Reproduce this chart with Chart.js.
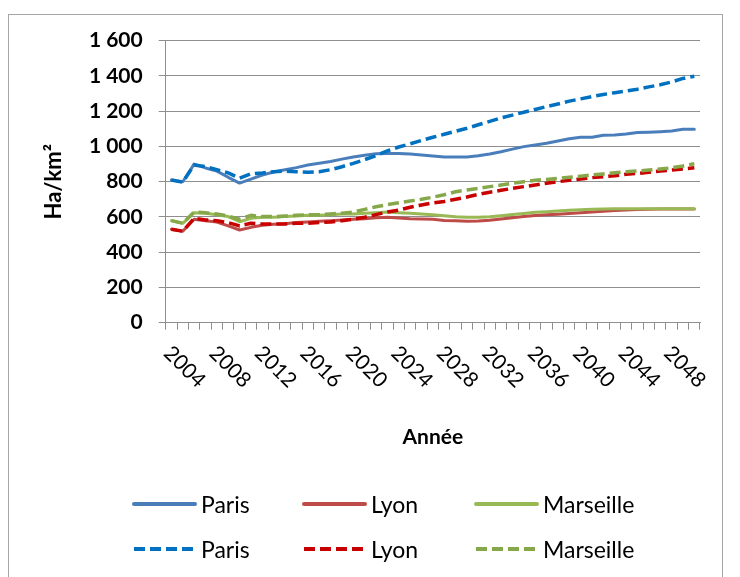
<!DOCTYPE html>
<html><head><meta charset="utf-8">
<script src="https://cdn.jsdelivr.net/npm/chart.js@4/dist/chart.umd.min.js"></script>
<style>
html,body{margin:0;padding:0;background:#fff;}
#wrap{position:relative;width:740px;height:577px;overflow:hidden;background:#fff;}
#frame{position:absolute;left:8px;top:14px;width:715px;height:620px;border:1px solid #a6a6a6;box-sizing:border-box;}
#c{position:absolute;left:0;top:0;}
.leg{position:absolute;height:30px;display:flex;align-items:center;font-family:Lato,sans-serif;font-size:23px;color:#000;white-space:nowrap;}
.leg svg{margin-right:3px;}
</style></head><body>
<div id="wrap"><div id="frame"></div><canvas id="c" width="740" height="577"></canvas><div id="legend"></div></div>
<script>
const years = ['2004','2005','2006','2007','2008','2009','2010','2011','2012','2013','2014','2015','2016','2017','2018','2019','2020','2021','2022','2023','2024','2025','2026','2027','2028','2029','2030','2031','2032','2033','2034','2035','2036','2037','2038','2039','2040','2041','2042','2043','2044','2045','2046','2047','2048','2049','2050'];
const xTickLabels = ['2004','2008','2012','2016','2020','2024','2028','2032','2036','2040','2044','2048'];
const yTicks = [0,200,400,600,800,1000,1200,1400,1600];

const parisA = [810,800,900,878,860,825,792,815,838,855,868,880,895,905,915,928,940,950,958,960,960,957,952,946,940,940,940,947,957,970,985,999,1008,1018,1031,1044,1052,1052,1063,1065,1071,1079,1081,1084,1088,1097,1097];
const lyonA = [530,519,587,579,571,549,526,541,553,558,562,568,571,575,579,583,587,590,596,598,594,590,589,587,580,578,576,577,581,588,596,602,608,612,616,620,624,628,632,636,640,642,644,645,645,645,645];
const marseilleA = [579,564,624,621,613,602,573,592,598,598,602,605,609,609,613,617,617,621,624,628,624,621,617,613,607,601,598,598,601,607,614,620,626,630,634,638,641,643,645,646,647,647,647,647,647,647,647];
const parisB = [810,797,895,885,868,850,820,845,850,857,860,857,853,857,868,885,904,925,948,975,997,1015,1034,1052,1069,1086,1103,1123,1142,1162,1178,1194,1210,1226,1241,1257,1270,1283,1295,1305,1314,1325,1338,1350,1366,1386,1398];
const lyonB = [530,519,592,583,579,568,549,564,560,560,560,564,564,568,571,579,587,598,613,628,639,655,668,680,688,700,713,728,740,751,762,772,781,791,800,808,815,823,828,834,842,847,853,861,866,872,879];
const marseilleB = [579,564,628,624,617,605,587,609,602,602,605,609,613,613,617,621,628,643,658,670,681,690,700,712,726,743,753,762,772,781,791,800,808,813,819,825,831,838,844,851,857,861,866,872,879,889,902];

const seriesNames = ['Paris','Lyon','Marseille','Paris','Lyon','Marseille'];
const seriesData = [parisA, lyonA, marseilleA, parisB, lyonB, marseilleB];
const seriesColors = ['#4A7EBB','#BE4B48','#98B954','#0070C0','#C80000','#86A84A'];
const seriesDashed = [false,false,false,true,true,true];

const DASH = [11,5];
const fmt = v => String(v).replace(/\B(?=(\d{3})+(?!\d))/g, ' ');

const datasets = seriesData.map((d,i) => ({
  label: seriesNames[i],
  data: d,
  borderColor: seriesColors[i],
  backgroundColor: seriesColors[i],
  borderWidth: seriesDashed[i] ? 3.5 : 3,
  borderDash: seriesDashed[i] ? DASH : [],
  borderCapStyle: seriesDashed[i] ? 'butt' : 'round',
  borderJoinStyle: 'round',
  pointRadius: 0,
  tension: 0,
  fill: false,
  order: seriesData.length - i
}));

const xLabelPlugin = {
  id: 'xlabels',
  afterDraw(chart) {
    const s = chart.scales.x, ctx = chart.ctx;
    ctx.save();
    ctx.font = '21px Lato';
    ctx.fillStyle = '#000';
    ctx.textAlign = 'left';
    ctx.textBaseline = 'middle';
    xTickLabels.forEach(lbl => {
      const px = s.getPixelForValue(years.indexOf(lbl));
      ctx.save();
      ctx.translate(px - 4, s.top + 27);
      ctx.rotate(Math.PI / 4);
      ctx.fillText(lbl, 0, 0);
      ctx.restore();
    });
    ctx.restore();
  }
};

const gridCol = '#8f8f8f';
new Chart(document.getElementById('c'), {
  type: 'line',
  data: { labels: years, datasets },
  options: {
    responsive: false,
    animation: false,
    devicePixelRatio: 1,
    layout: { padding: { left: 10, top: 40.7, right: 40, bottom: 114.3 } },
    plugins: { legend: { display: false }, tooltip: { enabled: false } },
    scales: {
      x: {
        type: 'category',
        offset: true,
        grid: { offset: true, drawOnChartArea: false, drawTicks: true, tickLength: 7, color: gridCol },
        border: { color: gridCol, width: 1 },
        ticks: { display: false },
        title: { display: true, text: 'Année', color: '#000', font: { family: 'Lato', size: 21, weight: 'bold' }, padding: { top: 0, bottom: 13 } },
        afterFit(s) { s.height = 140; }
      },
      y: {
        min: 0, max: 1600,
        afterBuildTicks(s) { s.ticks = yTicks.map(v => ({ value: v })); },
        ticks: { padding: 16, color: '#000', font: { family: 'Lato', size: 21, weight: 'bold' }, callback: v => fmt(v) },
        grid: { color: gridCol, tickLength: 7, drawTicks: true },
        border: { color: gridCol, width: 1 },
        title: { display: true, text: 'Ha/km²', color: '#000', font: { family: 'Lato', size: 22, weight: 'bold' }, padding: { top: 31, bottom: 0 } },
        afterFit(s) { s.width = 155.7; }
      }
    }
  },
  plugins: [xLabelPlugin]
});

// legend (HTML, built from the series arrays)
const legCols = [132, 302, 474];
const legRows = [504, 549];
const leg = document.getElementById('legend');
seriesNames.forEach((name, i) => {
  const col = i % 3, row = Math.floor(i / 3);
  const el = document.createElement('div');
  el.className = 'leg';
  el.style.left = legCols[col] + 'px';
  el.style.top = (legRows[row] - 15) + 'px';
  const dash = seriesDashed[i] ? 'stroke-dasharray="11 5"' : '';
  const cap = seriesDashed[i] ? 'butt' : 'round';
  el.innerHTML = '<svg width="66" height="10"><line x1="2" y1="5" x2="63" y2="5" stroke="' + seriesColors[i] + '" stroke-width="4" stroke-linecap="' + cap + '" ' + dash + '/></svg><span>' + name + '</span>';
  leg.appendChild(el);
});
</script>
</body></html>
